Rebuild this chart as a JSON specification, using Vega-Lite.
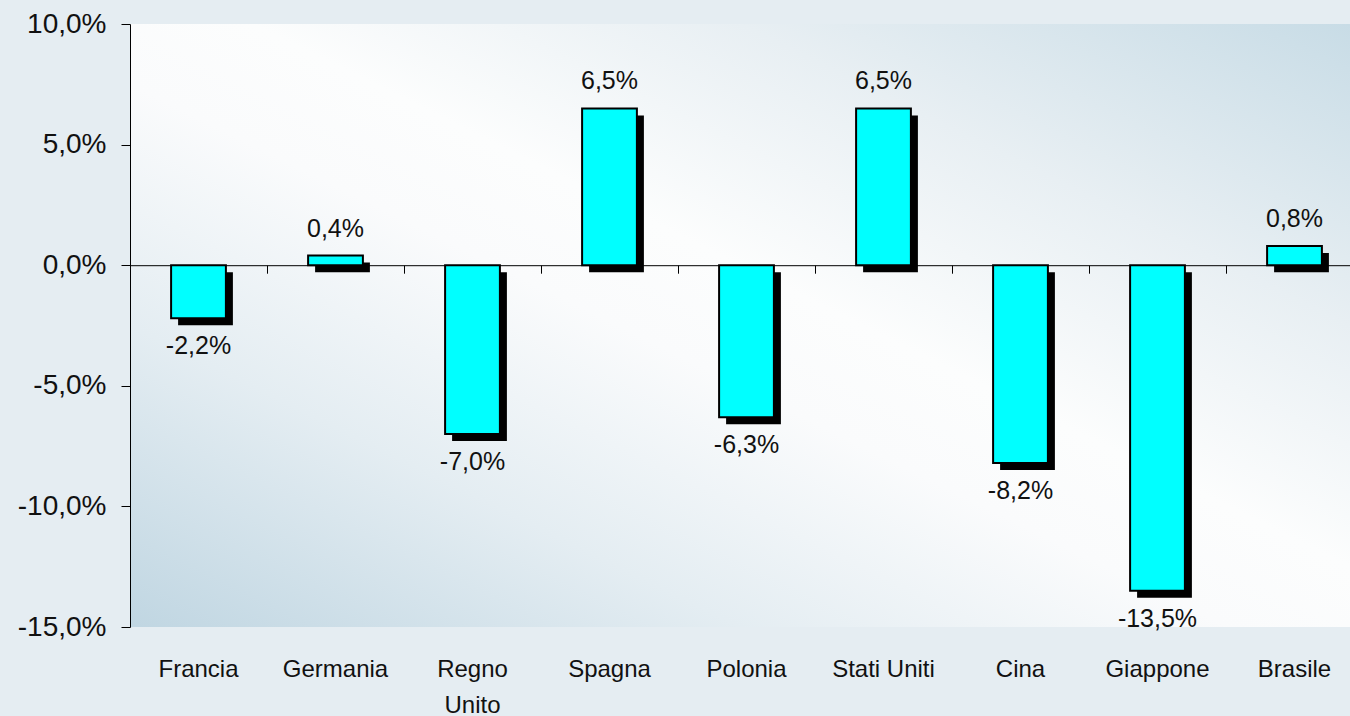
{
  "$schema": "https://vega.github.io/schema/vega-lite/v6.json",
  "width": 1220,
  "height": 603,
  "autosize": {"type": "none"},
  "padding": {"left": 130, "top": 24, "right": 0, "bottom": 89},
  "background": "#e5edf2",
  "config": {
    "view": {
      "stroke": null,
      "fill": {
        "gradient": "linear", "x1": 0, "y1": 1, "x2": 1, "y2": 0,
        "stops": [
          {"offset": 0, "color": "#c0d6e2"},
          {"offset": 0.25, "color": "#e4edf2"},
          {"offset": 0.45, "color": "#fafbfc"},
          {"offset": 0.55, "color": "#fcfdfd"},
          {"offset": 0.75, "color": "#e8eff3"},
          {"offset": 1, "color": "#c8dce6"}
        ]
      }
    },
    "font": "Liberation Sans",
    "axis": {"grid": false}
  },
  "data": {
    "values": [
      {"paese": "Francia", "v": -2.2, "label": "-2,2%"},
      {"paese": "Germania", "v": 0.4, "label": "0,4%"},
      {"paese": "Regno Unito", "v": -7.0, "label": "-7,0%"},
      {"paese": "Spagna", "v": 6.5, "label": "6,5%"},
      {"paese": "Polonia", "v": -6.3, "label": "-6,3%"},
      {"paese": "Stati Uniti", "v": 6.5, "label": "6,5%"},
      {"paese": "Cina", "v": -8.2, "label": "-8,2%"},
      {"paese": "Giappone", "v": -13.5, "label": "-13,5%"},
      {"paese": "Brasile", "v": 0.8, "label": "0,8%"}
    ]
  },
  "layer": [
    {
      "mark": {"type": "bar", "color": "black", "xOffset": 7, "yOffset": 7, "width": {"band": 0.4}},
      "encoding": {
        "x": {
          "field": "paese", "type": "nominal", "sort": null,
          "scale": {"range": [0, 1233], "paddingInner": 0, "paddingOuter": 0},
          "axis": {
            "orient": "bottom", "offset": -361.8, "labels": false, "ticks": true,
            "tickSize": 8, "tickColor": "black", "domain": true, "domainColor": "black",
            "bandPosition": 0, "title": null
          }
        },
        "y": {
          "field": "v", "type": "quantitative",
          "scale": {"domain": [-15, 10], "nice": false, "zero": false},
          "axis": {
            "values": [-15, -10, -5, 0, 5, 10],
            "labelExpr": "replace(replace(format(datum.value, '.1f'), '.', ','), '\u2212', '-') + '%'",
            "labelFontSize": 28, "labelColor": "#111111",
            "tickSize": 9, "tickColor": "black", "domainColor": "black",
            "labelPadding": 15, "title": null
          }
        }
      }
    },
    {
      "mark": {"type": "bar", "fill": "#00ffff", "stroke": "black", "strokeWidth": 2, "width": {"band": 0.4}},
      "encoding": {
        "x": {
          "field": "paese", "type": "nominal", "sort": null,
          "axis": {
            "orient": "bottom", "labels": true, "ticks": false, "tickSize": 0, "domain": false,
            "labelFontSize": 24, "labelColor": "#111111", "labelPadding": 30,
            "labelAngle": 0, "labelLineHeight": 36,
            "labelExpr": "datum.label == 'Regno Unito' ? ['Regno', 'Unito'] : datum.label",
            "title": null
          }
        },
        "y": {"field": "v", "type": "quantitative"}
      }
    },
    {
      "transform": [{"filter": "datum.v > 0"}],
      "mark": {"type": "text", "baseline": "alphabetic", "dy": -19, "fontSize": 25, "color": "#111111"},
      "encoding": {
        "x": {"field": "paese", "type": "nominal", "sort": null, "axis": null},
        "y": {"field": "v", "type": "quantitative"},
        "text": {"field": "label"}
      }
    },
    {
      "transform": [{"filter": "datum.v < 0"}],
      "mark": {"type": "text", "baseline": "alphabetic", "dy": 36, "fontSize": 25, "color": "#111111"},
      "encoding": {
        "x": {"field": "paese", "type": "nominal", "sort": null, "axis": null},
        "y": {"field": "v", "type": "quantitative"},
        "text": {"field": "label"}
      }
    }
  ],
  "resolve": {"axis": {"x": "independent"}}
}
